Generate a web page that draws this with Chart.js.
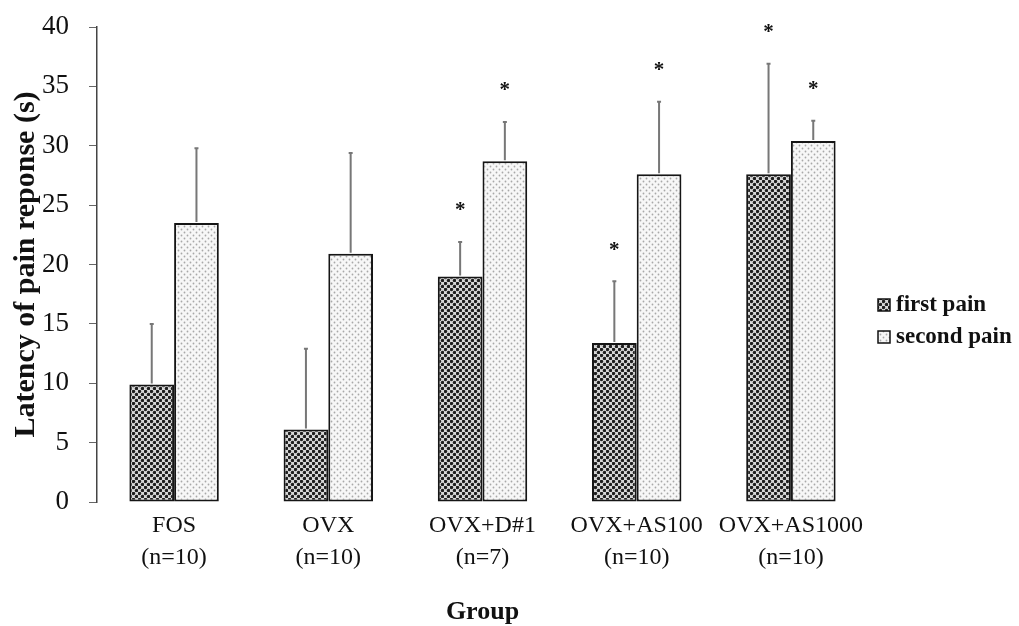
<!DOCTYPE html>
<html>
<head>
<meta charset="utf-8">
<script src="https://cdn.jsdelivr.net/npm/chart.js@4.4.1/dist/chart.umd.min.js"></script>
<style>
  html, body { margin: 0; padding: 0; background: #fff; }
  #wrap { width: 1019px; height: 626px; }
</style>
</head>
<body>
<div id="wrap"><canvas id="latency-chart"></canvas></div>
<script>
// data
const groups = [['FOS', '(n=10)'], ['OVX', '(n=10)'], ['OVX+D#1', '(n=7)'], ['OVX+AS100', '(n=10)'], ['OVX+AS1000', '(n=10)']];
const firstPain = [9.9, 6.1, 19.0, 13.4, 27.6];
const secondPain = [23.5, 20.9, 28.7, 27.6, 30.4];
const firstErr = [5.1, 6.8, 2.9, 5.2, 9.3];
const secondErr = [6.3, 8.5, 3.3, 6.1, 1.7];
const firstSig = [false, false, true, true, true];
const secondSig = [false, false, true, true, true];
const yTicks = [0, 5, 10, 15, 20, 25, 30, 35, 40];

const serif = '"Liberation Serif", "Times New Roman", serif';

const ctx = document.getElementById('latency-chart').getContext('2d');

// little dot textures like the scanned print
function makePattern(bg, dot, r) {
    const c = document.createElement('canvas');
    c.width = 6; c.height = 6;
    const p = c.getContext('2d');
    p.fillStyle = bg;
    p.fillRect(0, 0, 6, 6);
    p.fillStyle = dot;
    [[1.5, 1.5], [4.5, 4.5]].forEach(function (d) {
        p.beginPath();
        p.arc(d[0], d[1], r, 0, Math.PI * 2);
        p.fill();
    });
    return ctx.createPattern(c, 'repeat');
}
const darkFill = makePattern('#d8d8d8', '#1e1e1e', 1.7);
const lightFill = makePattern('#f7f7f7', '#a8a8a8', 0.9);

const errorBars = {
    id: 'errorBars',
    afterDatasetsDraw(chart) {
        const c = chart.ctx;
        const y = chart.scales.y;
        const errs = [firstErr, secondErr];
        const sigs = [firstSig, secondSig];
        c.save();
        chart.data.datasets.forEach(function (ds, di) {
            chart.getDatasetMeta(di).data.forEach(function (bar, i) {
                const top = y.getPixelForValue(ds.data[i] + errs[di][i]);
                c.strokeStyle = '#777';
                c.lineWidth = 2;
                c.beginPath();
                c.moveTo(bar.x, bar.y - 1);
                c.lineTo(bar.x, top);
                c.moveTo(bar.x - 2, top);
                c.lineTo(bar.x + 2, top);
                c.stroke();
                if (sigs[di][i]) {
                    c.fillStyle = '#111';
                    c.font = 'bold 21px ' + serif;
                    c.textAlign = 'center';
                    c.textBaseline = 'middle';
                    c.fillText('*', bar.x, top - 31);
                }
            });
        });
        c.restore();
    }
};

const sideLegend = {
    id: 'sideLegend',
    afterDraw(chart) {
        const c = chart.ctx;
        const items = [['first pain', darkFill, 305], ['second pain', lightFill, 337]];
        c.save();
        items.forEach(function (it) {
            c.fillStyle = it[1];
            c.fillRect(878, it[2] - 6, 12, 12);
            c.strokeStyle = '#111';
            c.lineWidth = 1.5;
            c.strokeRect(878, it[2] - 6, 12, 12);
            c.fillStyle = '#111';
            c.font = 'bold 23px ' + serif;
            c.textAlign = 'left';
            c.textBaseline = 'middle';
            c.fillText(it[0], 896, it[2]);
        });
        c.restore();
    }
};

const chart = new Chart(ctx, {
    type: 'bar',
    data: {
        labels: groups,
        datasets: [
            {
                label: 'first pain',
                data: firstPain,
                backgroundColor: darkFill,
                borderColor: '#151515',
                borderWidth: 2,
                borderSkipped: false
            },
            {
                label: 'second pain',
                data: secondPain,
                backgroundColor: lightFill,
                borderColor: '#151515',
                borderWidth: 2,
                borderSkipped: false
            }
        ]
    },
    options: {
        responsive: true,
        maintainAspectRatio: false,
        animation: false,
        categoryPercentage: 0.58,
        barPercentage: 1.0,
        layout: { padding: { top: 27, right: 151, bottom: 0, left: 0 } },
        plugins: {
            legend: { display: false },
            tooltip: { enabled: false }
        },
        scales: {
            x: {
                grid: { display: false, drawTicks: false },
                border: { display: false },
                ticks: {
                    color: '#111',
                    padding: 8,
                    maxRotation: 0,
                    autoSkip: false,
                    font: { family: serif, size: 24, lineHeight: 1.33 }
                },
                title: {
                    display: true,
                    text: 'Group',
                    color: '#111',
                    padding: { top: 0, bottom: 1 },
                    font: { family: serif, size: 26, weight: 'bold', lineHeight: 1 }
                },
                afterFit(scale) { scale.height = 124; }
            },
            y: {
                min: 0,
                max: 40,
                afterBuildTicks(scale) { scale.ticks = yTicks.map(function (v) { return { value: v }; }); },
                grid: {
                    drawOnChartArea: false,
                    drawTicks: true,
                    tickLength: 8,
                    color: '#666',
                    lineWidth: 1
                },
                border: { display: true, color: '#444', width: 1.5 },
                ticks: {
                    color: '#111',
                    padding: 20,
                    font: { family: serif, size: 27 }
                },
                title: {
                    display: true,
                    text: 'Latency of pain reponse (s)',
                    color: '#111',
                    padding: { top: 8, bottom: 0 },
                    font: { family: serif, size: 30, weight: 'bold', lineHeight: 1.2 }
                },
                afterFit(scale) {
                    scale.width = 97;
                    scale.paddingTop = 0;
                    scale.paddingBottom = 0;
                }
            }
        }
    },
    plugins: [errorBars, sideLegend]
});
</script>
</body>
</html>
